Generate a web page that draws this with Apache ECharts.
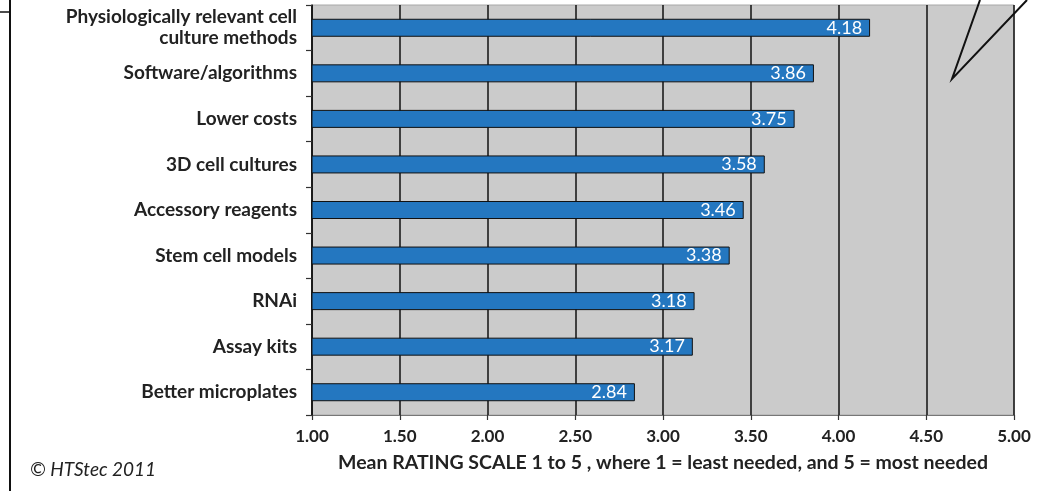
<!DOCTYPE html>
<html>
<head>
<meta charset="utf-8">
<script src="https://cdn.jsdelivr.net/npm/echarts@6/dist/echarts.min.js"></script>
<style>
  html, body { margin: 0; padding: 0; background: #ffffff; }
  #chart { width: 1051px; height: 491px; }
</style>
</head>
<body>
<div id="chart"></div>
<script>
// Survey items, top to bottom
const categories = [
  'Physiologically relevant cell\nculture methods',
  'Software/algorithms',
  'Lower costs',
  '3D cell cultures',
  'Accessory reagents',
  'Stem cell models',
  'RNAi',
  'Assay kits',
  'Better microplates'
];
// Mean rating (scale 1 to 5)
const meanRatings = [4.18, 3.86, 3.75, 3.58, 3.46, 3.38, 3.18, 3.17, 2.84];

const axisTitle = 'Mean RATING SCALE 1 to 5 , where 1 = least needed, and 5 = most needed';
const copyright = '\u00A9 HTStec 2011';

const FONT = 'Lato, "Open Sans", sans-serif';

const chart = echarts.init(document.getElementById('chart'), null, { renderer: 'canvas' });

chart.setOption({
  backgroundColor: '#ffffff',
  animation: false,
  grid: {
    left: 312, right: 37, top: 5, bottom: 76,
    show: true,
    backgroundColor: '#cbcbcb',
    borderColor: '#a8a8a8',
    borderWidth: 1
  },
  xAxis: {
    type: 'value',
    min: 1, max: 5, interval: 0.5,
    name: axisTitle,
    nameLocation: 'middle',
    nameGap: 38,
    nameTextStyle: { fontFamily: FONT, fontSize: 19.5, color: '#222', fontWeight: 'bold' },
    axisLine: { show: true, lineStyle: { color: '#777', width: 1 } },
    axisTick: { show: true, length: 5, lineStyle: { color: '#333', width: 1.2 } },
    axisLabel: {
      margin: 13,
      fontFamily: FONT, fontSize: 17, color: '#222', fontWeight: 'bold',
      formatter: v => v.toFixed(2)
    },
    splitLine: { show: true, lineStyle: { color: '#111', width: 1.5 } }
  },
  yAxis: {
    type: 'category',
    data: categories,
    inverse: true,
    axisLine: { show: true, lineStyle: { color: '#111', width: 1.5 } },
    axisTick: { show: true, length: 6, lineStyle: { color: '#333', width: 1.2 } },
    axisLabel: {
      margin: 15,
      fontFamily: FONT, fontSize: 19, color: '#222', fontWeight: 'bold',
      lineHeight: 21, align: 'right'
    },
    splitLine: { show: false }
  },
  series: [{
    type: 'bar',
    data: meanRatings,
    barWidth: 18,
    itemStyle: { color: '#2477c0', borderColor: '#111', borderWidth: 1 },
    label: {
      show: true,
      position: 'insideRight',
      distance: 8,
      color: '#ffffff',
      fontFamily: FONT, fontSize: 18,
      formatter: p => p.value.toFixed(2)
    }
  }],
  graphic: [
    // left frame bracket
    { type: 'line', shape: { x1: 10, y1: 0, x2: 10, y2: 491 }, style: { stroke: '#111', lineWidth: 2 } },
    { type: 'line', shape: { x1: 0, y1: 12, x2: 10, y2: 12 }, style: { stroke: '#111', lineWidth: 1.5 } },
    // callout pointer
    { type: 'polyline', shape: { points: [[980, 0], [952, 79], [1027, 0]] }, style: { stroke: '#111', lineWidth: 2, fill: null } },
    // copyright
    { type: 'text', left: 30, top: 460, style: { text: copyright, font: 'italic 19px ' + FONT, fill: '#222' } }
  ]
});
</script>
</body>
</html>
